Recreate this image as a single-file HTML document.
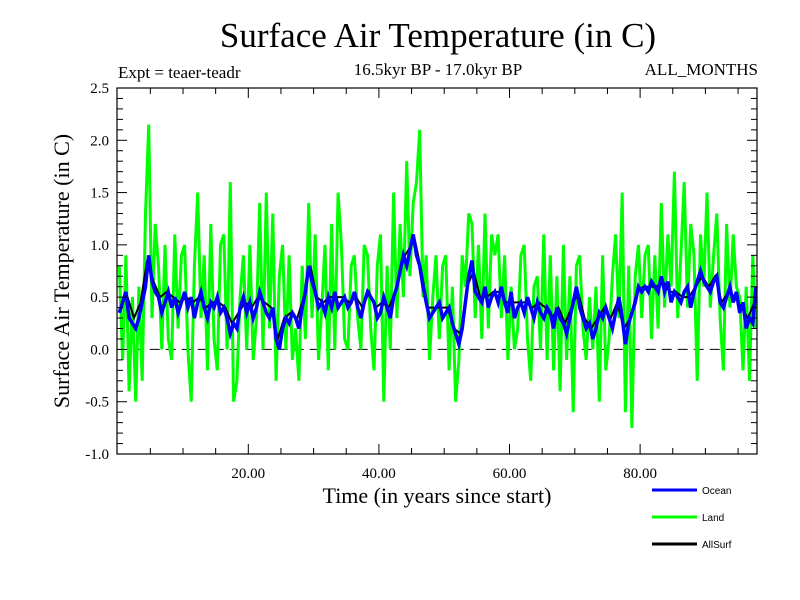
<!DOCTYPE html>
<html><head><meta charset="utf-8"><style>
body{margin:0;background:#fff;width:800px;height:600px;overflow:hidden}
svg{display:block}
text{font-family:"Liberation Serif",serif;fill:#000}
</style></head><body>
<svg id="c" width="800" height="600">
<text x="438" y="47" font-size="35" text-anchor="middle">Surface Air Temperature (in C)</text>
<text x="118" y="78" font-size="17">Expt = teaer-teadr</text>
<text x="438" y="75" font-size="17" text-anchor="middle">16.5kyr BP - 17.0kyr BP</text>
<text x="758" y="75" font-size="17" text-anchor="end">ALL_MONTHS</text>
<text transform="translate(69,271) rotate(-90)" font-size="22" text-anchor="middle">Surface Air Temperature (in C)</text>
<text x="437" y="503" font-size="22" text-anchor="middle">Time (in years since start)</text>
<g id="plot"></g>
<g>
<line x1="652" y1="490" x2="697" y2="490" stroke="#0000ff" stroke-width="3"/>
<text x="702" y="494" font-size="10" style="font-family:'Liberation Sans',sans-serif">Ocean</text>
<line x1="652" y1="517" x2="697" y2="517" stroke="#00ff00" stroke-width="3"/>
<text x="702" y="521" font-size="10" style="font-family:'Liberation Sans',sans-serif">Land</text>
<line x1="652" y1="544" x2="697" y2="544" stroke="#000" stroke-width="3"/>
<text x="702" y="548" font-size="10" style="font-family:'Liberation Sans',sans-serif">AllSurf</text>
</g>
</svg>
<script>
const xTicks=[20,40,60,80];
const xTickLabels=["20.00","40.00","60.00","80.00"];
const yTicks=[2.5,2.0,1.5,1.0,0.5,0.0,-0.5,-1.0];
const yTickLabels=["2.5","2.0","1.5","1.0","0.5","0.0","-0.5","-1.0"];
const ocean=[.35,.45,.55,.30,.25,.20,.30,.45,.60,.90,.65,.55,.50,.35,.45,.55,.40,.50,.35,.45,.55,.40,.50,.30,.45,.55,.40,.30,.45,.40,.50,.35,.40,.30,.15,.25,.20,.40,.50,.35,.45,.30,.40,.55,.45,.35,.30,.40,.10,.00,.20,.30,.25,.35,.30,.20,.40,.55,.80,.65,.55,.40,.45,.35,.50,.40,.55,.40,.45,.50,.40,.45,.55,.40,.30,.45,.55,.50,.45,.30,.35,.50,.40,.30,.50,.60,.75,.90,.80,.95,1.10,.90,.80,.60,.45,.30,.35,.40,.45,.30,.35,.40,.25,.15,.05,.20,.45,.70,.85,.55,.50,.45,.60,.40,.50,.55,.45,.60,.45,.35,.55,.30,.40,.45,.35,.50,.40,.30,.45,.35,.30,.40,.35,.20,.40,.30,.25,.15,.30,.45,.60,.40,.30,.20,.25,.10,.20,.35,.30,.40,.30,.20,.35,.50,.30,.05,.25,.35,.45,.60,.55,.60,.55,.65,.60,.55,.70,.55,.65,.45,.55,.50,.45,.55,.60,.40,.55,.65,.75,.65,.60,.55,.65,.70,.45,.40,.50,.60,.45,.55,.35,.45,.20,.30,.25,.60];
const land=[.8,-.1,.9,-.4,.5,-.5,.6,-.3,1.3,2.15,.3,1.2,.8,0,1.0,.1,-.1,1.1,.2,.9,1.0,0,-.5,.8,1.5,.3,.9,-.2,1.2,.1,-.2,1.0,1.1,0,1.6,-.5,-.3,.5,.9,0,1.0,-.1,.3,1.4,0,1.5,.2,1.3,-.3,.7,1.0,0,.9,-.1,.2,-.3,.8,.1,1.4,.3,1.1,-.1,.4,1.0,-.2,1.2,0,1.5,1.0,.1,0,.8,.9,.3,0,1.0,.9,.2,-.2,.8,1.1,-.5,.8,0,1.5,.3,1.2,.5,1.8,.7,1.4,1.6,2.1,.5,.9,-.1,.5,.9,.1,.8,.9,-.2,.6,-.5,-.1,.9,.6,1.3,1.2,.3,1.0,.1,1.3,.2,1.1,.9,1.1,.3,.9,-.1,.6,0,.2,.9,1.0,.1,-.3,.6,.7,0,1.1,-.1,.9,-.2,.7,-.4,1.0,-.1,.7,-.6,.8,.9,.2,-.1,.5,0,.6,-.5,.9,-.2,.1,.7,1.1,.3,1.5,-.6,.8,-.75,.7,1.0,.3,.9,1.0,.1,.9,.2,1.4,.4,1.1,.6,1.7,.3,.9,1.6,.4,1.2,.9,-.3,1.1,.6,1.5,.4,.9,1.3,.3,-.2,1.2,.4,1.1,.6,.5,-.2,.6,-.3,.9,.2];
const allsurf=[.45,.5,.3,.45,.85,.65,.5,.55,.5,.45,.5,.45,.5,.4,.45,.45,.4,.25,.35,.45,.4,.5,.45,.4,.1,.3,.35,.3,.5,.8,.5,.45,.5,.5,.5,.45,.5,.4,.55,.4,.45,.4,.55,.85,.95,1.05,.75,.4,.4,.4,.4,.2,.15,.6,.75,.5,.5,.55,.55,.45,.45,.45,.45,.4,.45,.4,.3,.4,.25,.4,.55,.3,.2,.3,.4,.3,.45,.2,.3,.55,.6,.6,.6,.65,.55,.55,.5,.5,.6,.7,.6,.7,.45,.55,.5,.4,.3,.45];
const L=117.7,R=757,T=88,B=454,X0=0,X1=97.9,Y0=-1,Y1=2.5;
const sx=v=>L+(v-X0)/(X1-X0)*(R-L);
const sy=v=>B-(v-Y0)/(Y1-Y0)*(B-T);
const NS="http://www.w3.org/2000/svg";
const g=document.getElementById('plot');
function mk(t,a){const e=document.createElementNS(NS,t);for(const k in a)e.setAttribute(k,a[k]);g.appendChild(e);return e;}
function series(arr,step,off,color,w,name){
  const pts=arr.map((v,i)=>sx(i*step+off).toFixed(1)+","+sy(v).toFixed(1)).join(" ");
  const p=mk('polyline',{points:pts,fill:'none',stroke:color,'stroke-width':w,'stroke-linejoin':'miter'});
  
  
}
const z=mk('line',{x1:L,x2:R,y1:sy(0),y2:sy(0),stroke:'#000','stroke-width':1,'stroke-dasharray':'10,6'});


series(land,0.5,0.25,'#00ff00',3,'land-series');
series(allsurf,1,0.5,'#000000',2,'allsurf-series');
series(ocean,0.5,0.25,'#0000ff',3.5,'ocean-series');
const fr=mk('rect',{x:117,y:T,width:R-117,height:B-T,fill:'none',stroke:'#000','stroke-width':1.2});


for(let v=5;v<X1;v+=5){const x=sx(v),len=(v%20===0)?10:6;
  mk('line',{x1:x,x2:x,y1:B,y2:B-len,stroke:'#000'});
  mk('line',{x1:x,x2:x,y1:T,y2:T+len,stroke:'#000'});}
xTicks.forEach((v,i)=>{const t=mk('text',{x:sx(v),y:B+24,'font-size':15,'text-anchor':'middle'});t.textContent=xTickLabels[i];
  
  });
for(let k=-10;k<=25;k++){const v=k/10,y=sy(v),len=(k%5===0)?10:6;
  mk('line',{x1:117,x2:117+len,y1:y,y2:y,stroke:'#000'});
  mk('line',{x1:R,x2:R-len,y1:y,y2:y,stroke:'#000'});}
yTicks.forEach((v,i)=>{const t=mk('text',{x:109,y:sy(v)+5,'font-size':15,'text-anchor':'end'});t.textContent=yTickLabels[i];
  
  });
</script>
</body></html>
